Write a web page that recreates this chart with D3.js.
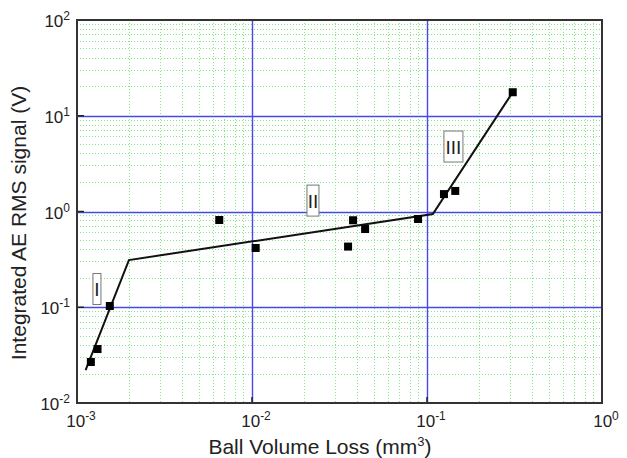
<!DOCTYPE html>
<html>
<head>
<meta charset="utf-8">
<script src="https://cdn.jsdelivr.net/npm/d3@7"></script>
<style>
  body { margin: 0; background: #fff; }
  text { font-family: "Liberation Sans", Arial, Helvetica, sans-serif; fill: #222; }
  .grid { shape-rendering: crispEdges; }
</style>
</head>
<body>
<div id="chart"></div>
<script>
// measured points
var volumeLoss = [0.00120, 0.00131, 0.00154, 0.0065, 0.0105, 0.0354, 0.0378, 0.0443, 0.0889, 0.125, 0.145, 0.309];
var aeSignal   = [0.0268, 0.0366, 0.103, 0.815, 0.416, 0.43, 0.81, 0.656, 0.835, 1.52, 1.64, 17.6];

// piecewise fit through three regimes
var fitX = [0.00112, 0.00198, 0.108, 0.309];
var fitY = [0.0221, 0.311, 0.94, 17.6];

// regime labels and where they sit (data units)
var regionNames = ["I", "II", "III"];
var regionX = [0.0013, 0.0223, 0.1416];
var regionY = [0.155, 1.30, 4.77];

var xTickExp = ["-3", "-2", "-1", "0"];
var yTickExp = ["-2", "-1", "0", "1", "2"];

var width = 627, height = 458;
var margin = {top: 20, right: 25, bottom: 55, left: 77};
var w = width - margin.left - margin.right,
    h = height - margin.top - margin.bottom;

var x = d3.scaleLog().domain([1e-3, 1]).range([0, w]);
var y = d3.scaleLog().domain([1e-2, 1e2]).range([h, 0]);

var svg = d3.select("#chart").append("svg")
    .attr("width", width)
    .attr("height", height)
  .append("g")
    .attr("transform", "translate(" + margin.left + "," + margin.top + ")");

var xDecades = xTickExp.map(function(e) { return Math.pow(10, +e); });
var yDecades = yTickExp.map(function(e) { return Math.pow(10, +e); });

function minors(decades) {
  var out = [];
  decades.slice(0, -1).forEach(function(d) {
    for (var k = 2; k < 10; k++) out.push(d * k);
  });
  return out;
}

// minor grid, green dotted
svg.selectAll(".xminor").data(minors(xDecades))
  .enter().append("line")
    .attr("class", "grid")
    .attr("x1", function(d) { return x(d); }).attr("x2", function(d) { return x(d); })
    .attr("y1", 0).attr("y2", h)
    .attr("stroke", "#88e488").attr("stroke-width", 1).attr("stroke-dasharray", "1,2");

svg.selectAll(".yminor").data(minors(yDecades))
  .enter().append("line")
    .attr("class", "grid")
    .attr("y1", function(d) { return y(d); }).attr("y2", function(d) { return y(d); })
    .attr("x1", 0).attr("x2", w)
    .attr("stroke", "#88e488").attr("stroke-width", 1).attr("stroke-dasharray", "1,2");

// major grid, blue
svg.selectAll(".xmajor").data(xDecades.slice(1, -1))
  .enter().append("line")
    .attr("x1", function(d) { return Math.round(x(d)) + 0.5; })
    .attr("x2", function(d) { return Math.round(x(d)) + 0.5; })
    .attr("y1", 0).attr("y2", h)
    .attr("stroke", "#4848e8").attr("stroke-width", 1.4);

svg.selectAll(".ymajor").data(yDecades.slice(1, -1))
  .enter().append("line")
    .attr("y1", function(d) { return Math.round(y(d)) + 0.5; })
    .attr("y2", function(d) { return Math.round(y(d)) + 0.5; })
    .attr("x1", 0).attr("x2", w)
    .attr("stroke", "#4848e8").attr("stroke-width", 1.4);

// inward major ticks
svg.selectAll(".xtick").data(xDecades)
  .enter().append("line")
    .attr("x1", function(d) { return x(d); }).attr("x2", function(d) { return x(d); })
    .attr("y1", h).attr("y2", h - 6)
    .attr("stroke", "#222").attr("stroke-width", 1.5);

svg.selectAll(".ytick").data(yDecades)
  .enter().append("line")
    .attr("y1", function(d) { return y(d); }).attr("y2", function(d) { return y(d); })
    .attr("x1", 0).attr("x2", 7)
    .attr("stroke", "#222").attr("stroke-width", 1.5);

// frame
svg.append("rect")
    .attr("width", w).attr("height", h)
    .attr("fill", "none").attr("stroke", "#333").attr("stroke-width", 2);

// tick labels
var xl = svg.selectAll(".xlab").data(xTickExp)
  .enter().append("text")
    .attr("x", function(d) { return x(Math.pow(10, +d)) + 4; })
    .attr("y", h + 24)
    .attr("text-anchor", "middle")
    .style("font-size", "17px");
xl.append("tspan").text("10");
xl.append("tspan").attr("dy", -7).style("font-size", "12px").text(function(d) { return d; });

var yl = svg.selectAll(".ylab").data(yTickExp)
  .enter().append("text")
    .attr("x", -7)
    .attr("y", function(d) { return y(Math.pow(10, +d)) + 7; })
    .attr("text-anchor", "end")
    .style("font-size", "17px");
yl.append("tspan").text("10");
yl.append("tspan").attr("dy", -7).style("font-size", "12px").text(function(d) { return d; });

// fit line
var line = d3.line()
    .x(function(d) { return x(d[0]); })
    .y(function(d) { return y(d[1]); });

svg.append("path")
    .datum(d3.zip(fitX, fitY))
    .attr("d", line)
    .attr("fill", "none").attr("stroke", "#111").attr("stroke-width", 2);

// data squares
svg.selectAll(".pt").data(d3.zip(volumeLoss, aeSignal))
  .enter().append("rect")
    .attr("x", function(d) { return x(d[0]) - 4; })
    .attr("y", function(d) { return y(d[1]) - 4; })
    .attr("width", 8).attr("height", 8)
    .attr("fill", "#000");

// regime labels in boxes
var reg = svg.selectAll(".reg").data(regionNames)
  .enter().append("g")
    .attr("transform", function(d, i) {
      return "translate(" + x(regionX[i]) + "," + y(regionY[i]) + ")";
    });
var boxW = [8, 12, 19];
reg.append("rect")
    .attr("x", function(d, i) { return -boxW[i] / 2; })
    .attr("y", -15.5)
    .attr("width", function(d, i) { return boxW[i]; })
    .attr("height", 31)
    .attr("fill", "#fff").attr("stroke", "#777").attr("stroke-width", 1);
reg.append("text")
    .attr("text-anchor", "middle")
    .attr("y", 7)
    .style("font-size", "19px")
    .text(function(d) { return d; });

// axis titles
svg.append("text")
    .attr("x", 243).attr("y", h + 51)
    .attr("text-anchor", "middle")
    .style("font-size", "21px")
    .call(function(t) {
      t.append("tspan").text("Ball Volume Loss (mm");
      t.append("tspan").attr("dy", -8).style("font-size", "13px").text("3");
      t.append("tspan").attr("dy", 8).text(")");
    });

svg.append("text")
    .attr("transform", "translate(-51," + 203 + ") rotate(-90)")
    .attr("text-anchor", "middle")
    .style("font-size", "21px")
    .text("Integrated AE RMS signal (V)");
</script>
</body>
</html>
